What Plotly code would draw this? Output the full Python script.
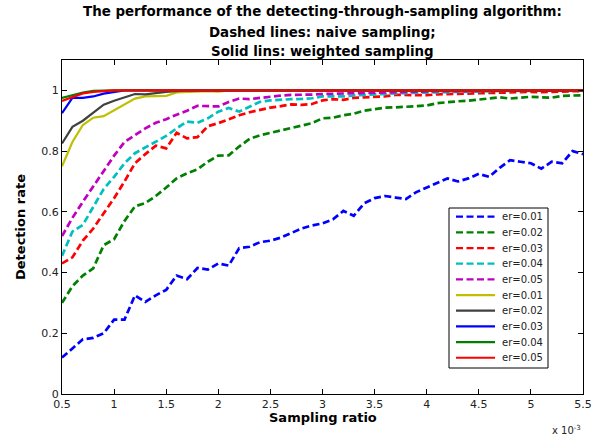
import plotly.graph_objects as go

# Sampling ratio (x 10^-3)
sampling_ratio = [0.5, 0.6, 0.7, 0.8, 0.9, 1.0, 1.1, 1.2, 1.3, 1.4,
                  1.5, 1.6, 1.7, 1.8, 1.9, 2.0, 2.1, 2.2, 2.3, 2.4,
                  2.5, 2.6, 2.7, 2.8, 2.9, 3.0, 3.1, 3.2, 3.3, 3.4,
                  3.5, 3.6, 3.7, 3.8, 3.9, 4.0, 4.1, 4.2, 4.3, 4.4,
                  4.5, 4.6, 4.7, 4.8, 4.9, 5.0, 5.1, 5.2, 5.3, 5.4, 5.5]

# Naive sampling (dashed)
naive_er001 = [0.12, 0.15, 0.18, 0.185, 0.20, 0.245, 0.245, 0.325, 0.303, 0.325,
               0.343, 0.39, 0.378, 0.415, 0.41, 0.43, 0.423, 0.48, 0.485, 0.50,
               0.505, 0.515, 0.53, 0.545, 0.555, 0.562, 0.575, 0.603, 0.587, 0.628,
               0.645, 0.652, 0.647, 0.642, 0.665, 0.68, 0.695, 0.71, 0.70, 0.71,
               0.725, 0.715, 0.745, 0.77, 0.765, 0.76, 0.742, 0.765, 0.76, 0.80, 0.79]
naive_er002 = [0.30, 0.355, 0.39, 0.414, 0.49, 0.51, 0.57, 0.618, 0.629, 0.652,
               0.68, 0.71, 0.727, 0.74, 0.765, 0.785, 0.786, 0.815, 0.84, 0.852,
               0.86, 0.868, 0.878, 0.885, 0.892, 0.908, 0.91, 0.918, 0.923, 0.933,
               0.937, 0.943, 0.944, 0.946, 0.949, 0.95, 0.958, 0.962, 0.964, 0.966,
               0.969, 0.972, 0.977, 0.973, 0.977, 0.979, 0.977, 0.976, 0.982, 0.984, 0.984]
naive_er003 = [0.43, 0.45, 0.505, 0.545, 0.595, 0.645, 0.70, 0.76, 0.79, 0.818,
               0.809, 0.86, 0.842, 0.846, 0.882, 0.892, 0.905, 0.918, 0.928, 0.936,
               0.943, 0.948, 0.954, 0.952, 0.955, 0.967, 0.971, 0.969, 0.975, 0.977,
               0.978, 0.98, 0.985, 0.985, 0.986, 0.984, 0.987, 0.988, 0.99, 0.99,
               0.992, 0.992, 0.994, 0.993, 0.995, 0.995, 0.994, 0.996, 0.996, 0.997, 0.997]
naive_er004 = [0.455, 0.535, 0.557, 0.615, 0.675, 0.715, 0.76, 0.793, 0.812, 0.833,
               0.85, 0.875, 0.897, 0.893, 0.908, 0.93, 0.942, 0.93, 0.945, 0.962,
               0.967, 0.97, 0.971, 0.972, 0.974, 0.98, 0.98, 0.98, 0.983, 0.985,
               0.988, 0.99, 0.99, 0.991, 0.992, 0.993, 0.994, 0.995, 0.995, 0.996,
               0.997, 0.997, 0.998, 0.998, 0.998, 0.999, 0.999, 0.999, 1.0, 1.0, 1.0]
naive_er005 = [0.52, 0.58, 0.633, 0.685, 0.733, 0.785, 0.83, 0.853, 0.875, 0.893,
               0.905, 0.92, 0.933, 0.949, 0.949, 0.947, 0.962, 0.973, 0.971, 0.975,
               0.981, 0.983, 0.985, 0.985, 0.986, 0.988, 0.989, 0.99, 0.991, 0.992,
               0.993, 0.994, 0.994, 0.995, 0.996, 0.996, 0.997, 0.997, 0.998, 0.998,
               0.998, 0.999, 0.999, 0.999, 0.999, 1.0, 1.0, 1.0, 1.0, 1.0, 1.0]

# Weighted sampling (solid)
weighted_er001 = [0.75, 0.83, 0.886, 0.91, 0.915, 0.935, 0.955, 0.973, 0.98, 0.982,
                  0.982, 0.993, 0.995, 0.995, 0.997, 0.996, 1.0, 1.0, 1.0, 1.0,
                  1.0, 1.0, 1.0, 1.0, 1.0, 1.0, 1.0, 1.0, 1.0, 1.0,
                  1.0, 1.0, 1.0, 1.0, 1.0, 1.0, 1.0, 1.0, 1.0, 1.0,
                  1.0, 1.0, 1.0, 1.0, 1.0, 1.0, 1.0, 1.0, 1.0, 1.0, 1.0]
weighted_er002 = [0.825, 0.88, 0.90, 0.928, 0.953, 0.966, 0.978, 0.988, 0.987, 0.992,
                  0.995, 0.997, 1.0, 1.0, 1.0, 1.0, 1.0, 1.0, 1.0, 1.0,
                  1.0, 1.0, 1.0, 1.0, 1.0, 1.0, 1.0, 1.0, 1.0, 1.0,
                  1.0, 1.0, 1.0, 1.0, 1.0, 1.0, 1.0, 1.0, 1.0, 1.0,
                  1.0, 1.0, 1.0, 1.0, 1.0, 1.0, 1.0, 1.0, 1.0, 1.0, 1.0]
weighted_er003 = [0.925, 0.975, 0.975, 0.98, 0.989, 0.995, 1.0, 1.0, 1.0, 1.0,
                  1.0, 1.0, 1.0, 1.0, 1.0, 1.0, 1.0, 1.0, 1.0, 1.0,
                  1.0, 1.0, 1.0, 1.0, 1.0, 1.0, 1.0, 1.0, 1.0, 1.0,
                  1.0, 1.0, 1.0, 1.0, 1.0, 1.0, 1.0, 1.0, 1.0, 1.0,
                  1.0, 1.0, 1.0, 1.0, 1.0, 1.0, 1.0, 1.0, 1.0, 1.0, 1.0]
weighted_er004 = [0.975, 0.985, 0.993, 0.998, 1.0, 1.0, 1.0, 1.0, 1.0, 1.0,
                  1.0, 1.0, 1.0, 1.0, 1.0, 1.0, 1.0, 1.0, 1.0, 1.0,
                  1.0, 1.0, 1.0, 1.0, 1.0, 1.0, 1.0, 1.0, 1.0, 1.0,
                  1.0, 1.0, 1.0, 1.0, 1.0, 1.0, 1.0, 1.0, 1.0, 1.0,
                  1.0, 1.0, 1.0, 1.0, 1.0, 1.0, 1.0, 1.0, 1.0, 1.0, 1.0]
weighted_er005 = [0.965, 0.978, 0.99, 0.995, 0.998, 1.0, 1.0, 1.0, 1.0, 1.0,
                  1.0, 1.0, 1.0, 1.0, 1.0, 1.0, 1.0, 1.0, 1.0, 1.0,
                  1.0, 1.0, 1.0, 1.0, 1.0, 1.0, 1.0, 1.0, 1.0, 1.0,
                  1.0, 1.0, 1.0, 1.0, 1.0, 1.0, 1.0, 1.0, 1.0, 1.0,
                  1.0, 1.0, 1.0, 1.0, 1.0, 1.0, 1.0, 1.0, 1.0, 1.0, 1.0]

labels = ["er=0.01", "er=0.02", "er=0.03", "er=0.04", "er=0.05"]
naive_series = [naive_er001, naive_er002, naive_er003, naive_er004, naive_er005]
weighted_series = [weighted_er001, weighted_er002, weighted_er003, weighted_er004, weighted_er005]
naive_colors = ["#0000FF", "#008000", "#FF0000", "#00BFBF", "#BF00BF"]
weighted_colors = ["#BFBF00", "#404040", "#0000FF", "#008000", "#FF0000"]
title_lines = ["The performance of the detecting-through-sampling algorithm:",
               "Dashed lines: naive sampling;",
               "Solid lins: weighted sampling"]

DASH = "7px,3.5px"
fig = go.Figure()
legend_entries = []
for name, ys, col in zip(labels, naive_series, naive_colors):
    fig.add_trace(go.Scatter(x=sampling_ratio, y=ys, mode="lines", name=name, showlegend=False,
                             line=dict(color=col, width=2.7, dash=DASH)))
    legend_entries.append((name, col, DASH, 2.3))
for name, ys, col in zip(labels, weighted_series, weighted_colors):
    fig.add_trace(go.Scatter(x=sampling_ratio, y=ys, mode="lines", name=name, showlegend=False,
                             line=dict(color=col, width=2.2)))
    legend_entries.append((name, col, "solid", 2.2))

# plot area in pixels: x 62..583, y 60..394
PL, PR, PT, PB = 62, 583, 60, 394
def px_x(p):
    return (p - PL) / (PR - PL)
def px_y(p):
    return (PB - p) / (PB - PT)

font_family = "DejaVu Sans, Verdana, sans-serif"
fig.update_layout(
    width=605, height=437,
    margin=dict(l=PL, r=605 - PR, t=PT, b=437 - PB, autoexpand=False),
    paper_bgcolor="white", plot_bgcolor="white",
    font=dict(family=font_family, size=11, color="black"),
    showlegend=False,
)
fig.update_xaxes(
    range=[0.5, 5.5], tick0=0.5, dtick=0.5, automargin=False,
    showline=True, linecolor="black", linewidth=1, mirror="ticks",
    ticks="inside", ticklen=5, tickcolor="black", showgrid=False, zeroline=False,
    tickfont=dict(size=11, color="#222"),
)
fig.update_yaxes(
    range=[0, 1.1], tick0=0, dtick=0.2, automargin=False,
    showline=True, linecolor="black", linewidth=1, mirror="ticks",
    ticks="inside", ticklen=5, tickcolor="black", showgrid=False, zeroline=False,
    tickfont=dict(size=11, color="#222"),
)

# Title (three bold lines)
for line, ypix in zip(title_lines, [12, 32, 51]):
    fig.add_annotation(text="<b>" + line + "</b>", xref="paper", yref="paper",
                       x=0.5, y=px_y(ypix), xanchor="center", yanchor="middle",
                       showarrow=False, font=dict(size=13.4, family=font_family, color="black"))
# Axis titles
fig.add_annotation(text="<b>Sampling ratio</b>", xref="paper", yref="paper",
                   x=0.5, y=px_y(418), xanchor="center", yanchor="middle",
                   showarrow=False, font=dict(size=13, family=font_family, color="black"))
fig.add_annotation(text="<b>Detection rate</b>", xref="paper", yref="paper",
                   x=px_x(20), y=0.5, xanchor="center", yanchor="middle", textangle=-90,
                   showarrow=False, font=dict(size=13, family=font_family, color="black"))
fig.add_annotation(text="x 10<sup>-3</sup>", xref="paper", yref="paper",
                   x=px_x(566), y=px_y(430), xanchor="center", yanchor="middle",
                   showarrow=False, font=dict(size=10, family=font_family, color="#222"))

# Legend box (drawn in paper coordinates)
LX0, LX1, LY0, LY1 = 449, 548, 208, 368
fig.add_shape(type="rect", xref="paper", yref="paper",
              x0=px_x(LX0), x1=px_x(LX1), y0=px_y(LY1), y1=px_y(LY0),
              line=dict(color="black", width=1), fillcolor="white", layer="above")
row0, row_step = 216.7, 15.67
for i, (name, col, dash, w) in enumerate(legend_entries):
    yc = row0 + i * row_step
    fig.add_shape(type="line", xref="paper", yref="paper",
                  x0=px_x(456), x1=px_x(495), y0=px_y(yc), y1=px_y(yc),
                  line=dict(color=col, width=w, dash=dash), layer="above")
    fig.add_annotation(text=name, xref="paper", yref="paper",
                       x=px_x(500), y=px_y(yc), xanchor="left", yanchor="middle",
                       showarrow=False, font=dict(size=10, family=font_family, color="#222"))

fig.write_html("out.html", config={"displayModeBar": False},
               post_script="document.body.style.margin='0px';")
